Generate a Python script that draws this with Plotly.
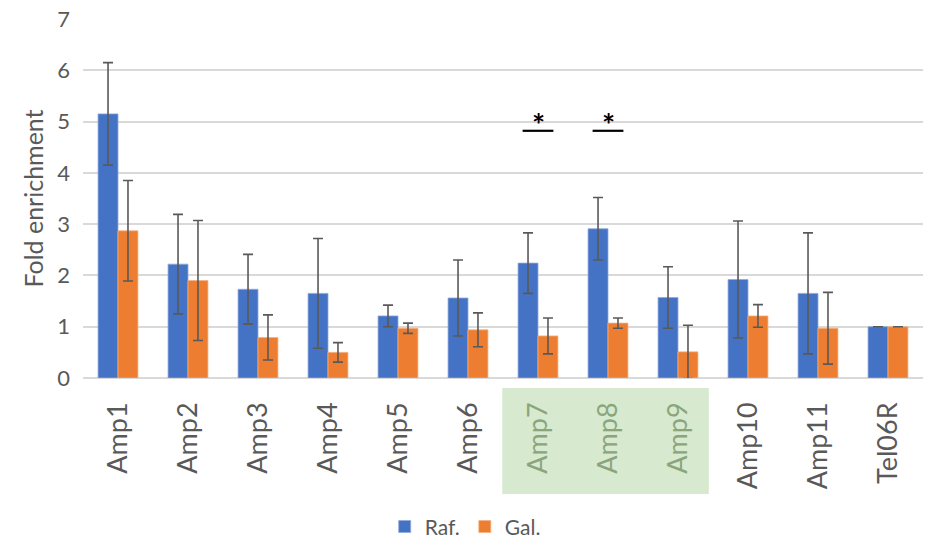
import plotly.graph_objects as go

categories = ["Amp1", "Amp2", "Amp3", "Amp4", "Amp5", "Amp6", "Amp7", "Amp8", "Amp9", "Amp10", "Amp11", "Tel06R"]
raf = [5.15, 2.22, 1.73, 1.65, 1.21, 1.56, 2.24, 2.91, 1.57, 1.92, 1.65, 1.0]
raf_err = [1.0, 0.97, 0.68, 1.07, 0.21, 0.74, 0.59, 0.61, 0.60, 1.14, 1.18, 0.0]
gal = [2.87, 1.90, 0.79, 0.50, 0.97, 0.94, 0.82, 1.07, 0.51, 1.21, 0.97, 1.0]
gal_err = [0.98, 1.17, 0.44, 0.19, 0.10, 0.33, 0.35, 0.10, 0.52, 0.22, 0.70, 0.0]
highlighted = ["Amp7", "Amp8", "Amp9"]
significant = ["Amp7", "Amp8"]
sig_level = 4.82
y_ticks = [0, 1, 2, 3, 4, 5, 6, 7]

FONT = "Lato, 'Open Sans', sans-serif"
tick_text = [
    f"<span style='color:#8aa57c'>{c}</span>" if c in highlighted else c
    for c in categories
]

err_style = dict(type="data", visible=True, color="#595959", thickness=1.6, width=5)

fig = go.Figure()
fig.add_trace(go.Bar(
    x=categories, y=raf, name="Raf.",
    marker=dict(color="#4472C4", line=dict(color="#8fa9dc", width=0.8)),
    error_y=dict(array=raf_err, **err_style),
))
fig.add_trace(go.Bar(
    x=categories, y=gal, name="Gal.",
    marker=dict(color="#ED7D31", line=dict(color="#f4b183", width=0.8)),
    error_y=dict(array=gal_err, **err_style),
))

# green highlight box behind Amp7-Amp9 labels
i0 = categories.index(highlighted[0])
i1 = categories.index(highlighted[-1])
fig.add_shape(type="rect", xref="x", yref="paper",
              x0=i0 - 0.51, x1=i1 + 0.44, y0=-0.028, y1=-0.323,
              fillcolor="#d7e9cf", line=dict(width=0), layer="below")

for c in significant:
    i = categories.index(c)
    fig.add_shape(type="line", xref="x", yref="y",
                  x0=i - 0.22, x1=i + 0.22, y0=sig_level, y1=sig_level,
                  line=dict(color="black", width=2.2))
    fig.add_annotation(x=i, y=sig_level, xref="x", yref="y", text="<b>*</b>",
                       showarrow=False, yanchor="bottom", yshift=-14,
                       font=dict(family=FONT, size=31, color="black"))

fig.update_layout(
    width=927, height=542,
    margin=dict(l=83, r=4, t=19, b=164),
    paper_bgcolor="white", plot_bgcolor="white",
    barmode="group", bargap=0.43, bargroupgap=0.0,
    font=dict(family=FONT, color="#595959"),
    legend=dict(orientation="h", x=0.455, xanchor="center",
                yref="container", y=0.028, yanchor="middle",
                font=dict(size=21, color="#595959"), itemwidth=30),
    xaxis=dict(tickmode="array", tickvals=categories, ticktext=tick_text,
               tickangle=-90, tickfont=dict(size=27, color="#595959"),
               showgrid=False, showline=False, ticks="", ticklabelstandoff=18,
               automargin=False),
    yaxis=dict(range=[0, 7], tickvals=y_ticks, showgrid=True, gridcolor="#d9d9d9",
               gridwidth=1.5, zeroline=True, zerolinecolor="#d9d9d9", zerolinewidth=1.5,
               tickfont=dict(size=22, color="#595959"), ticks="", ticklabelstandoff=12,
               ticklabeloverflow="allow", automargin=False,
               title=dict(text="Fold enrichment", font=dict(size=25, color="#595959"), standoff=6)),
)

# remove the browser's default page margin so the figure fills the window exactly
fig.write_html(
    "out.html",
    config={"displayModeBar": False},
    post_script="document.body.style.margin='0';document.documentElement.style.overflow='hidden';",
)
